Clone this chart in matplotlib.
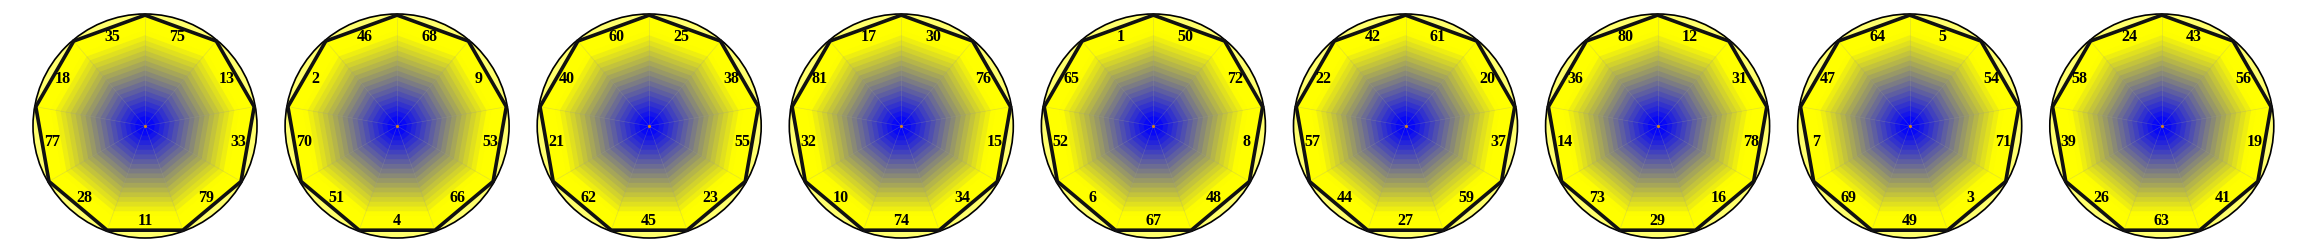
import numpy as np
import matplotlib.pyplot as plt
from matplotlib.patches import Circle, Polygon

# -----------------------------
# DATA: 9 dials, labels clockwise from the top-right edge
# -----------------------------
dial_1 = [75, 13, 33, 79, 11, 28, 77, 18, 35]
dial_2 = [68, 9, 53, 66, 4, 51, 70, 2, 46]
dial_3 = [25, 38, 55, 23, 45, 62, 21, 40, 60]
dial_4 = [30, 76, 15, 34, 74, 10, 32, 81, 17]
dial_5 = [50, 72, 8, 48, 67, 6, 52, 65, 1]
dial_6 = [61, 20, 37, 59, 27, 44, 57, 22, 42]
dial_7 = [12, 31, 78, 16, 29, 73, 14, 36, 80]
dial_8 = [5, 54, 71, 3, 49, 69, 7, 47, 64]
dial_9 = [43, 56, 19, 41, 63, 26, 39, 58, 24]
dials = [dial_1, dial_2, dial_3, dial_4, dial_5, dial_6, dial_7, dial_8, dial_9]

# -----------------------------
# LAYOUT (pixels)
# -----------------------------
W, H = 2306, 250
X0 = 145.0
STEP = 252.1
CY = 126.0
R = 112.0
N_SIDES = 9
N_BANDS = 22

BLUE = np.array([0.0, 0.0, 1.0])
YELLOW = np.array([1.0, 1.0, 0.0])


def band_color(t):
    s = np.clip((t - 0.07) / 0.8, 0, 1)
    return tuple(BLUE + (YELLOW - BLUE) * s)


def nonagon(cx, cy, r):
    ang = np.deg2rad(90 - np.arange(N_SIDES) * 360 / N_SIDES)
    return np.column_stack([cx + r * np.cos(ang), cy - r * np.sin(ang)])


def draw_dial(ax, cx, labels):
    ax.add_patch(Circle((cx, CY), R, facecolor="#ffff6e", edgecolor="black",
                        lw=1.2, zorder=1))
    rp = R * 0.99
    # stepped gradient, outermost first
    for i in range(N_BANDS):
        t = 1 - i / N_BANDS
        ax.add_patch(Polygon(nonagon(cx, CY, rp * t), closed=True,
                             facecolor=band_color(t), edgecolor="none", zorder=2))
    # spokes
    for vx, vy in nonagon(cx, CY, rp):
        ax.plot([cx, vx], [CY, vy], color="#a0a090", lw=0.5, alpha=0.3, zorder=3)
    ax.plot(cx, CY, "o", ms=1.2, color="#d08020", zorder=4)
    ax.add_patch(Polygon(nonagon(cx, CY, rp), closed=True, fill=False,
                         edgecolor="#111111", lw=2.6, zorder=5))
    # labels at mid-edge angles
    for k, val in enumerate(labels):
        a = np.deg2rad(70 - k * 40)
        ax.text(cx + 0.845 * R * np.cos(a), CY - 0.845 * R * np.sin(a), str(val),
                ha="center", va="center", fontsize=11.5, fontweight="bold",
                family="Liberation Serif", color="black", zorder=6)


def main():
    fig = plt.figure(figsize=(W / 100, H / 100), dpi=100)
    ax = fig.add_axes([0, 0, 1, 1])
    ax.set_xlim(0, W)
    ax.set_ylim(H, 0)
    ax.set_aspect("equal")
    ax.axis("off")

    for i, labels in enumerate(dials):
        draw_dial(ax, X0 + i * STEP, labels)

    fig.savefig("out.png", dpi=100, facecolor="white")


if __name__ == "__main__":
    main()
